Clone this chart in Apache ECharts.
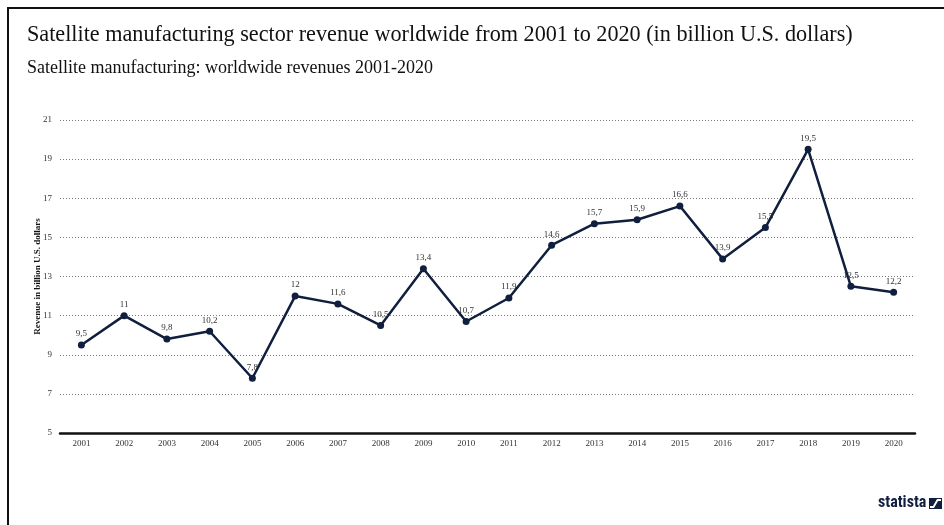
<!DOCTYPE html>
<html>
<head>
<meta charset="utf-8">
<script src="https://cdn.jsdelivr.net/npm/echarts@6/dist/echarts.min.js"></script>
<style>
  html, body { margin: 0; padding: 0; background: #ffffff; }
  #chart { width: 944px; height: 525px; }
</style>
</head>
<body>
<div id="chart"></div>
<script>
// Satellite manufacturing revenue, billion U.S. dollars
const years = ['2001','2002','2003','2004','2005','2006','2007','2008','2009','2010',
               '2011','2012','2013','2014','2015','2016','2017','2018','2019','2020'];
const revenue = [9.5, 11, 9.8, 10.2, 7.8, 12, 11.6, 10.5, 13.4, 10.7,
                 11.9, 14.6, 15.7, 15.9, 16.6, 13.9, 15.5, 19.5, 12.5, 12.2];
const yTicks = { min: 5, max: 21, step: 2 };

const titleText = 'Satellite manufacturing sector revenue worldwide from 2001 to 2020 (in billion U.S. dollars)';
const subtitleText = 'Satellite manufacturing: worldwide revenues 2001-2020';
const yAxisTitle = 'Revenue in billion U.S. dollars';

const serif = '"Liberation Serif", "DejaVu Serif", serif';
const navy = '#0f1f3d';

const chart = echarts.init(document.getElementById('chart'), null, { renderer: 'canvas' });

chart.setOption({
  animation: false,
  backgroundColor: '#ffffff',
  grid: { left: 60, right: 29, top: 120, bottom: 92 },
  xAxis: {
    type: 'category',
    data: years,
    boundaryGap: true,
    axisLine: { lineStyle: { color: '#111111', width: 2.5 } },
    axisTick: { show: false },
    axisLabel: { fontFamily: serif, fontSize: 9, color: '#333333', margin: 6 }
  },
  yAxis: {
    type: 'value',
    min: yTicks.min,
    max: yTicks.max,
    interval: yTicks.step,
    name: yAxisTitle,
    nameLocation: 'middle',
    nameGap: 18,
    nameMoveOverlap: false,
    nameTextStyle: { fontFamily: serif, fontSize: 9, fontWeight: 'bold', color: '#111111' },
    axisLine: { show: false },
    axisTick: { show: false },
    axisLabel: { fontFamily: serif, fontSize: 9, color: '#333333', margin: 8 },
    splitLine: { lineStyle: { color: '#777777', type: [1, 2], width: 1 } }
  },
  series: [{
    type: 'line',
    data: revenue,
    symbol: 'circle',
    symbolSize: 7,
    lineStyle: { color: navy, width: 2.5 },
    itemStyle: { color: navy },
    label: {
      show: true,
      position: 'top',
      distance: 3,
      fontFamily: serif,
      fontSize: 9,
      color: '#333333',
      formatter: p => String(p.value).replace('.', ',')
    },
    z: 3
  }],
  graphic: [
    // frame: top and left rules
    { type: 'rect', shape: { x: 8, y: 8, width: 960, height: 540 },
      style: { fill: 'none', stroke: '#111111', lineWidth: 2 }, silent: true },
    { type: 'text', x: 27, y: 35.5,
      style: { text: titleText, font: '22.2px ' + serif, fill: '#111111', verticalAlign: 'middle' } },
    { type: 'text', x: 27, y: 68,
      style: { text: subtitleText, font: '18px ' + serif, fill: '#111111', verticalAlign: 'middle' } },
    // statista wordmark
    { type: 'text', x: 878, y: 503,
      style: { text: 'statista', font: 'bold 16px "Liberation Sans Narrow", "Roboto Condensed", sans-serif',
               fill: navy, verticalAlign: 'middle' } },
    { type: 'group', x: 929, y: 498, children: [
      { type: 'rect', shape: { x: 0, y: 0, width: 13, height: 11 }, style: { fill: navy } },
      { type: 'polygon', shape: { points: [[1, 10], [5, 10], [9, 3], [12, 3], [12, 1], [8, 1], [4, 8], [1, 8]] },
        style: { fill: '#ffffff' } }
    ] }
  ]
});
</script>
</body>
</html>
